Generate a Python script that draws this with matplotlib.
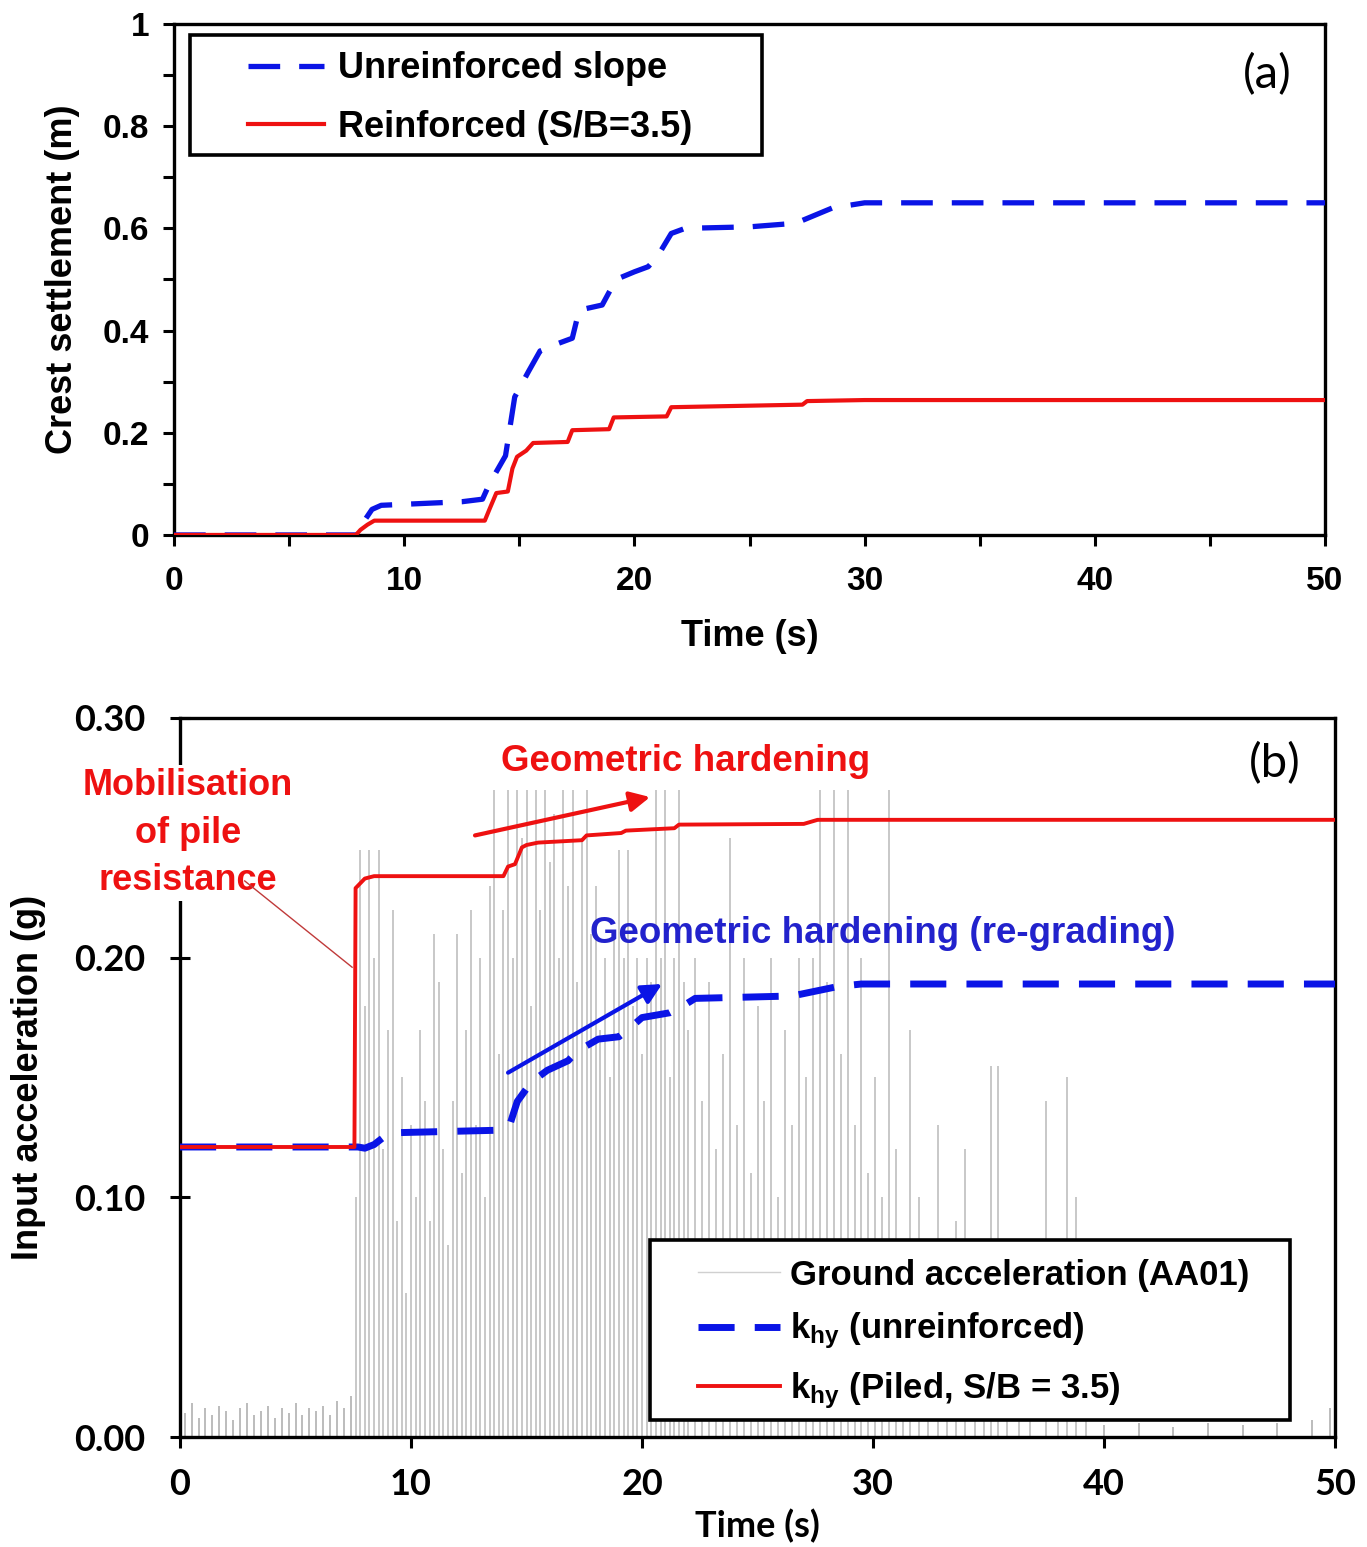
import matplotlib
matplotlib.use("Agg")
import matplotlib.pyplot as plt
from matplotlib.lines import Line2D
from matplotlib.patches import Rectangle
from matplotlib.ticker import MultipleLocator

plt.rcParams['font.family'] = ['Liberation Sans', 'DejaVu Sans']
plt.rcParams['font.weight'] = 'bold'
plt.rcParams['mathtext.fontset'] = 'custom'
plt.rcParams['mathtext.bf'] = 'Liberation Sans:bold'
plt.rcParams['mathtext.rm'] = 'Liberation Sans:bold'
plt.rcParams['mathtext.it'] = 'Liberation Sans:bold'

# ---------------- Panel (a): crest settlement ----------------
a_t_unr = [0, 8.0, 8.3, 8.6, 9.0, 11.0, 12.5, 13.4, 13.7, 14.4, 14.8, 15.4, 15.9, 16.7,
           17.3, 17.6, 18.6, 19.2, 20.0, 20.6, 21.0, 21.6, 22.2, 25.0, 27.0, 27.8, 28.6,
           30.0, 50.0]
a_v_unr = [0, 0, 0.03, 0.05, 0.058, 0.062, 0.065, 0.07, 0.10, 0.155, 0.27, 0.32, 0.36,
           0.375, 0.385, 0.44, 0.45, 0.50, 0.515, 0.525, 0.545, 0.59, 0.60, 0.603, 0.61,
           0.625, 0.64, 0.65, 0.65]
a_t_rei = [0, 7.9, 8.1, 8.4, 8.7, 13.5, 13.7, 14.0, 14.5, 14.7, 14.9, 15.3, 15.6, 17.1,
           17.3, 18.9, 19.1, 21.4, 21.6, 25.0, 27.3, 27.5, 30.0, 50.0]
a_v_rei = [0, 0, 0.01, 0.02, 0.028, 0.028, 0.05, 0.082, 0.085, 0.13, 0.153, 0.165, 0.18,
           0.182, 0.205, 0.207, 0.23, 0.232, 0.25, 0.253, 0.255, 0.262, 0.264, 0.264]

# ---------------- Panel (b): k_hy and ground acceleration ----------------
b_t_rei = [0, 7.55, 7.6, 8.0, 8.4, 14.0, 14.2, 14.5, 14.8, 15.0, 15.5, 17.4, 17.6, 19.1,
           19.3, 21.4, 21.6, 27.0, 27.6, 50.0]
b_k_rei = [0.121, 0.121, 0.229, 0.233, 0.234, 0.234, 0.238, 0.239, 0.246, 0.247, 0.248,
           0.249, 0.251, 0.252, 0.253, 0.254, 0.2555, 0.2558, 0.2575, 0.2575]
b_t_unr = [0, 7.7, 8.0, 8.4, 8.8, 9.5, 13.8, 14.3, 14.6, 15.2, 15.9, 16.8, 17.2, 18.1,
           19.0, 19.4, 20.0, 21.2, 21.8, 22.3, 26.5, 27.5, 28.5, 29.5, 50.0]
b_k_unr = [0.121, 0.121, 0.1205, 0.122, 0.125, 0.127, 0.128, 0.131, 0.140, 0.148, 0.153,
           0.157, 0.161, 0.166, 0.167, 0.170, 0.175, 0.177, 0.180, 0.183, 0.184, 0.186,
           0.188, 0.189, 0.189]

# ground acceleration peaks (time s, |a| g)
gm_t = [7.6, 7.8, 8.0, 8.2, 8.4, 8.6, 8.8, 9.0, 9.2, 9.4, 9.6, 9.8, 10.0, 10.2, 10.4,
        10.6, 10.8, 11.0, 11.2, 11.4, 11.6, 11.8, 12.0, 12.2, 12.4, 12.6, 12.8, 13.0,
        13.2, 13.4, 13.6, 13.8, 14.0, 14.2, 14.4, 14.6, 14.8, 15.0, 15.2, 15.4, 15.6,
        15.8, 16.0, 16.2, 16.4, 16.6, 16.8, 17.0, 17.2, 17.4, 17.6, 17.8, 18.0, 18.2,
        18.4, 18.6, 18.8, 19.0, 19.2, 19.4, 19.6, 19.8, 20.0, 20.2, 20.4, 20.6, 20.8,
        21.0, 21.2, 21.4, 21.6, 21.8, 22.0, 22.3, 22.6, 22.9, 23.2, 23.5, 23.8, 24.1,
        24.4, 24.7, 25.0, 25.3, 25.6, 25.9, 26.2, 26.5, 26.8, 27.1, 27.4, 27.7, 28.0,
        28.3, 28.6, 28.9, 29.2, 29.5, 29.8, 30.1, 30.4, 30.7, 31.0, 31.3, 31.6, 32.0,
        32.4, 32.8, 33.2, 33.6, 34.0, 34.4, 34.8, 35.1, 35.4, 35.8, 36.3, 36.8, 37.5,
        38.0, 38.4, 38.8, 39.2]
gm_a = [0.10, 0.245, 0.18, 0.245, 0.20, 0.245, 0.12, 0.17, 0.22, 0.09, 0.15, 0.06, 0.13,
        0.10, 0.17, 0.14, 0.09, 0.21, 0.19, 0.12, 0.08, 0.14, 0.21, 0.11, 0.17, 0.22, 0.13,
        0.20, 0.10, 0.23, 0.27, 0.16, 0.22, 0.27, 0.20, 0.27, 0.25, 0.27, 0.18, 0.27, 0.22,
        0.27, 0.24, 0.26, 0.20, 0.27, 0.23, 0.27, 0.19, 0.25, 0.27, 0.21, 0.23, 0.17, 0.20,
        0.15, 0.21, 0.245, 0.20, 0.245, 0.18, 0.20, 0.16, 0.20, 0.19, 0.27, 0.20, 0.27,
        0.15, 0.20, 0.27, 0.19, 0.17, 0.20, 0.14, 0.19, 0.12, 0.16, 0.25, 0.13, 0.20, 0.11,
        0.18, 0.14, 0.20, 0.10, 0.17, 0.13, 0.20, 0.15, 0.20, 0.27, 0.19, 0.27, 0.16, 0.27,
        0.13, 0.20, 0.11, 0.15, 0.10, 0.27, 0.12, 0.08, 0.17, 0.10, 0.07, 0.13, 0.06, 0.09,
        0.12, 0.06, 0.08, 0.155, 0.155, 0.07, 0.05, 0.06, 0.14, 0.05, 0.15, 0.10, 0.04]
# low-level motion before and after the main shaking
gn_t = [0.2, 0.5, 0.8, 1.1, 1.4, 1.7, 2.0, 2.3, 2.6, 2.9, 3.2, 3.5, 3.8, 4.1, 4.4, 4.7,
        5.0, 5.3, 5.6, 5.9, 6.2, 6.5, 6.8, 7.1, 7.4, 40.0, 41.5, 43.0, 44.5, 46.0, 47.5,
        49.0, 49.8]
gn_a = [0.010, 0.014, 0.008, 0.012, 0.009, 0.013, 0.011, 0.007, 0.012, 0.014, 0.009,
        0.011, 0.013, 0.008, 0.012, 0.010, 0.014, 0.009, 0.012, 0.011, 0.013, 0.009, 0.015,
        0.012, 0.017, 0.005, 0.006, 0.004, 0.006, 0.005, 0.006, 0.007, 0.012]

BLUE = '#0a14e6'
RED = '#ee1111'
DASH_A = (0, (6, 3.6))
DASH_B = (0, (5.2, 2.9))

fig = plt.figure(figsize=(13.67, 15.47), dpi=100)

# ================= Panel (a) =================
ax1 = fig.add_axes([0.1273, 0.6542, 0.8420, 0.3303])
ax1.plot(a_t_unr, a_v_unr, color=BLUE, lw=3.8, linestyle=DASH_A,
         label='Unreinforced slope', zorder=3)
ax1.plot(a_t_rei, a_v_rei, color=RED, lw=3.0, label='Reinforced (S/B=3.5)', zorder=4)
ax1.set_xlim(0, 50)
ax1.set_ylim(0, 1)
ax1.xaxis.set_major_locator(MultipleLocator(10))
ax1.xaxis.set_minor_locator(MultipleLocator(5))
ax1.yaxis.set_minor_locator(MultipleLocator(0.1))
ax1.set_yticks([0, 0.2, 0.4, 0.6, 0.8, 1.0])
ax1.set_yticklabels(['0', '0.2', '0.4', '0.6', '0.8', '1'])
ax1.tick_params(which='both', direction='out', length=8, width=2.2, labelsize=24)
ax1.tick_params(axis='x', which='both', pad=14)
ax1.tick_params(axis='y', which='both', pad=10)
for s in ax1.spines.values():
    s.set_linewidth(2.4)
ax1.set_xlabel('Time (s)', fontsize=26, fontweight='bold', labelpad=16)
ax1.set_ylabel('Crest settlement (m)', fontsize=26, fontweight='bold', labelpad=16)
for lab in ax1.get_xticklabels() + ax1.get_yticklabels():
    lab.set_fontweight('bold')
# legend box (a)
ax1.add_patch(Rectangle((0.0139, 0.7436), 0.4970, 0.2344, transform=ax1.transAxes,
                        facecolor='white', edgecolor='black', lw=2.6, zorder=5))
leg1 = ax1.legend(loc='center left', bbox_to_anchor=(0.0643, 0.855), fontsize=26,
                  frameon=False, handlelength=2.1, handletextpad=0.4,
                  borderpad=0, labelspacing=0.65, borderaxespad=0)
leg1.set_zorder(6)
ax1.text(47.5, 0.90, '(a)', fontsize=34, fontweight='normal', family='Lato',
         ha='center', va='center')

# ================= Panel (b) =================
ax2 = fig.add_axes([0.1317, 0.0711, 0.8449, 0.4648])
ax2.vlines(gm_t, 0, gm_a, color='#c8c8c8', lw=1.4, zorder=1)
ax2.vlines(gn_t, 0, gn_a, color='#b0b0b0', lw=1.2, zorder=1)
ax2.plot(b_t_unr, b_k_unr, color=BLUE, lw=5.0, linestyle=DASH_B, zorder=3)
ax2.plot(b_t_rei, b_k_rei, color=RED, lw=2.8, zorder=4)
ax2.set_xlim(0, 50)
ax2.set_ylim(0, 0.30)
ax2.set_xticks([0, 10, 20, 30, 40, 50])
ax2.set_yticks([0.0, 0.1, 0.2, 0.3])
ax2.set_yticklabels(['0.00', '0.10', '0.20', '0.30'])
ax2.tick_params(axis='y', direction='inout', length=14, width=2.2, labelsize=26, pad=18)
ax2.tick_params(axis='x', direction='out', length=8, width=2.2, labelsize=26, pad=14)
for lab in ax2.get_xticklabels() + ax2.get_yticklabels():
    lab.set_fontweight('bold')
    lab.set_family('Lato')
for s in ax2.spines.values():
    s.set_linewidth(2.4)
ax2.set_xlabel('Time (s)', fontsize=26, fontweight='bold', family='Lato', labelpad=6)
ax2.set_ylabel('Input acceleration (g)', fontsize=26, fontweight='bold', labelpad=20)

# legend box (b)
ax2.add_patch(Rectangle((0.4069, 0.0236), 0.5541, 0.2504, transform=ax2.transAxes,
                        facecolor='white', edgecolor='black', lw=2.6, zorder=5))
h_gm = Line2D([], [], color='#d0d0d0', lw=1.0)
h_unr = Line2D([], [], color=BLUE, lw=5.0, linestyle=DASH_B)
h_rei = Line2D([], [], color=RED, lw=2.8)
leg2 = ax2.legend([h_gm, h_unr, h_rei],
                  ['Ground acceleration (AA01)',
                   r'k$_{\mathbf{hy}}$ (unreinforced)',
                   r'k$_{\mathbf{hy}}$ (Piled, S/B = 3.5)'],
                  loc='center left', bbox_to_anchor=(0.4485, 0.142), fontsize=25,
                  frameon=False, handlelength=2.36, handletextpad=0.29,
                  borderpad=0, labelspacing=0.55, borderaxespad=0)
leg2.set_zorder(6)

ax2.text(47.4, 0.281, '(b)', fontsize=34, fontweight='normal', family='Lato',
         ha='center', va='center')

# annotations
ax2.text(0.35, 0.252, 'Mobilisation\nof pile\nresistance', color=RED, fontsize=26,
         fontweight='bold', ha='center', va='center', linespacing=1.45, zorder=5,
         clip_on=False, bbox=dict(facecolor='white', edgecolor='none', pad=2))
ax2.plot([2.8, 7.45], [0.232, 0.196], color='#c03a3a', lw=1.0, zorder=5)

ax2.text(21.9, 0.282, 'Geometric hardening', color=RED, fontsize=26.5,
         fontweight='bold', ha='center', va='center', zorder=5)
ax2.annotate('', xy=(20.35, 0.267), xytext=(12.77, 0.251),
             arrowprops=dict(arrowstyle='-|>', color=RED, lw=3.0,
                             mutation_scale=30, shrinkA=0, shrinkB=0), zorder=5)

ax2.text(30.4, 0.210, 'Geometric hardening (re-grading)', color='#2222cc', fontsize=26.5,
         fontweight='bold', ha='center', va='center', zorder=5)
ax2.annotate('', xy=(20.87, 0.189), xytext=(14.2, 0.152),
             arrowprops=dict(arrowstyle='-|>', color=BLUE, lw=3.0,
                             mutation_scale=30, shrinkA=0, shrinkB=0), zorder=5)

fig.savefig('out.png', dpi=100)
